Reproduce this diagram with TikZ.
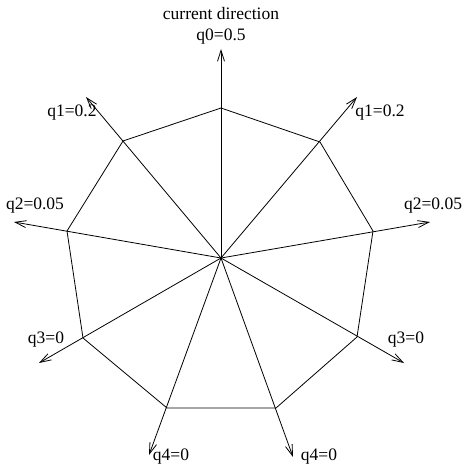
\documentclass[tikz,border=0pt]{standalone}
\usepackage{fontspec}
\setmainfont{Liberation Serif}
\usetikzlibrary{arrows.meta}
\begin{document}
\begin{tikzpicture}[x=1pt,y=-1pt,
  edge/.style={line width=0.8pt},
  ray/.style={line width=0.8pt,-{Straight Barb[length=11pt,width=7pt,line width=0.8pt]}},
  lbl/.style={inner sep=0pt,font=\fontsize{17.5}{20}\selectfont}]
\useasboundingbox (0,0) rectangle (463,473);
\coordinate (c) at (221,258);
% polygon vertices
\coordinate (v0) at (221,108);
\coordinate (v1) at (320,142);
\coordinate (v2) at (373,231);
\coordinate (v3) at (357,337);
\coordinate (v4) at (276,408);
\coordinate (v5) at (167,408);
\coordinate (v6) at (83,338);
\coordinate (v7) at (67,231);
\coordinate (v8) at (123,141);
% arrow tips
\coordinate (t0) at (221,49);
\coordinate (t1) at (357,97);
\coordinate (t2) at (430,222);
\coordinate (t3) at (404,363);
\coordinate (t4) at (293,457);
\coordinate (t5) at (149,455);
\coordinate (t6) at (39,363);
\coordinate (t7) at (14,222);
\coordinate (t8) at (86,97);
\draw[edge] (v0) -- (v1) -- (v2) -- (v3) -- (v4) -- (v5) -- (v6) -- (v7) -- (v8) -- cycle;
\foreach \i in {0,...,8} { \draw[ray] (c) -- (t\i); }
\node[lbl] (title) at (221,14) {current direction};
\node[lbl] (l0) at (221,37) {q0=0.5};
\node[lbl] (l1) at (380,113) {q1=0.2};
\node[lbl] (l2) at (433,206) {q2=0.05};
\node[lbl] (l3) at (406,340) {q3=0};
\node[lbl] (l4) at (319,457) {q4=0};
\node[lbl] (l5) at (171,457) {q4=0};
\node[lbl] (l6) at (46,340) {q3=0};
\node[lbl] (l7) at (35,206) {q2=0.05};
\node[lbl] (l8) at (72,113) {q1=0.2};
\end{tikzpicture}
\end{document}
